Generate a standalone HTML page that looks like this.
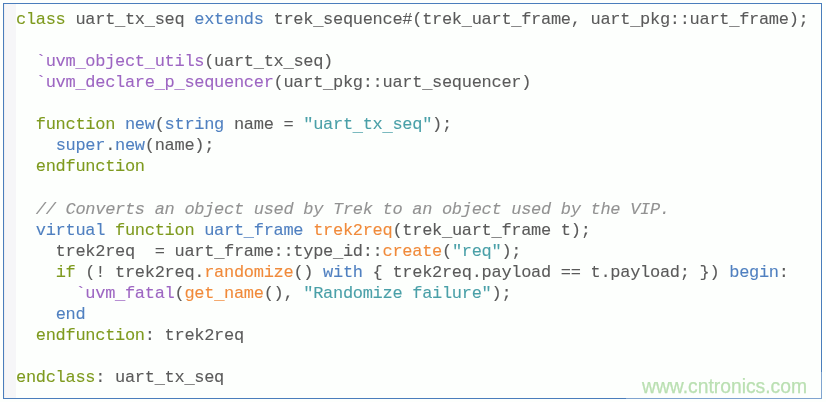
<!DOCTYPE html>
<html><head><meta charset="utf-8">
<style>
html,body{margin:0;padding:0;}
body{width:826px;height:402px;background:#fdfffd;position:relative;overflow:hidden;}
.box{position:absolute;left:3px;top:3px;width:817px;height:394px;border:1px solid #4a7dbc;background:#fdfffd;}
.gutter{position:absolute;left:4px;top:4px;width:12px;height:394px;background:#f6f6f8;border-left:1px solid #eeeef0;box-sizing:border-box;}
pre{position:absolute;left:16.45px;top:9.05px;margin:0;font-family:"Liberation Mono",monospace;font-size:17px;letter-spacing:-0.296px;line-height:21.06px;color:#5a5a5a;white-space:pre;will-change:transform;-webkit-text-stroke:0.1px currentColor;}
.k{color:#7e9a1e}
.b{color:#5080c0}
.p{color:#9d66c2}
.o{color:#f08a3a}
.s{color:#4aa0a8}
.c{color:#929292;font-style:italic}
i.u{font-style:normal;position:relative;top:1.3px;opacity:0.8;}
.wm{position:absolute;left:626px;top:372px;width:200px;height:30px;background:rgba(255,255,255,0.3);}
.wmt{position:absolute;left:642px;top:376px;font-family:"Liberation Sans",sans-serif;font-size:19.3px;color:#bae0b2;-webkit-text-stroke:0.25px #bae0b2;white-space:nowrap;}
</style></head><body>
<div class="box"></div>
<div class="gutter"></div>
<pre><span class="k">class</span> uart<i class="u">_</i>tx<i class="u">_</i>seq <span class="b">extends</span> trek<i class="u">_</i>sequence#(trek<i class="u">_</i>uart<i class="u">_</i>frame, uart<i class="u">_</i>pkg::uart<i class="u">_</i>frame);

  <span class="p">`uvm<i class="u">_</i>object<i class="u">_</i>utils</span>(uart<i class="u">_</i>tx<i class="u">_</i>seq)
  <span class="p">`uvm<i class="u">_</i>declare<i class="u">_</i>p<i class="u">_</i>sequencer</span>(uart<i class="u">_</i>pkg::uart<i class="u">_</i>sequencer)

  <span class="k">function</span> <span class="b">new</span>(<span class="b">string</span> name = <span class="s">"uart<i class="u">_</i>tx<i class="u">_</i>seq"</span>);
    <span class="b">super</span>.<span class="b">new</span>(name);
  <span class="k">endfunction</span>

  <span class="c">// Converts an object used by Trek to an object used by the VIP.</span>
  <span class="b">virtual</span> <span class="k">function</span> <span class="b">uart<i class="u">_</i>frame</span> <span class="o">trek2req</span>(trek<i class="u">_</i>uart<i class="u">_</i>frame t);
    trek2req  = uart<i class="u">_</i>frame::type<i class="u">_</i>id::<span class="o">create</span>(<span class="s">"req"</span>);
    <span class="k">if</span> (! trek2req.<span class="o">randomize</span>() <span class="b">with</span> { trek2req.payload == t.payload; }) <span class="b">begin</span>:
      <span class="p">`uvm<i class="u">_</i>fatal</span>(<span class="o">get<i class="u">_</i>name</span>(), <span class="s">"Randomize failure"</span>);
    <span class="b">end</span>
  <span class="k">endfunction</span>: trek2req

<span class="k">endclass</span>: uart<i class="u">_</i>tx<i class="u">_</i>seq</pre>
<div class="wm"></div>
<div class="wmt">www.cntronics.com</div>
</body></html>
